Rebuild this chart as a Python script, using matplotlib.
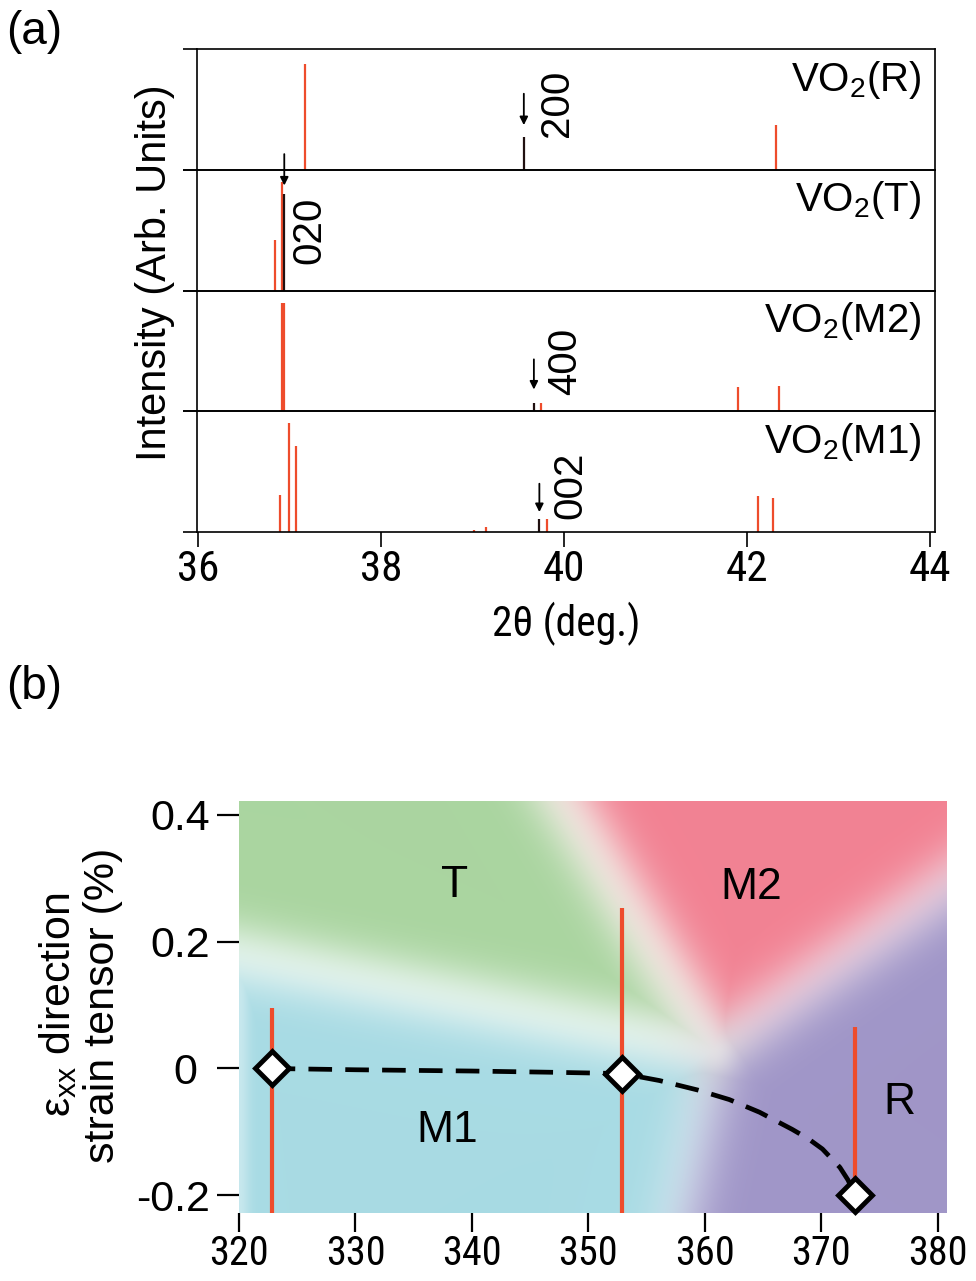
import numpy as np
import matplotlib.pyplot as plt

plt.rcParams['font.family'] = ['Liberation Sans', 'DejaVu Sans']
plt.rcParams['mathtext.fontset'] = 'custom'
plt.rcParams['mathtext.rm'] = 'Liberation Sans'
plt.rcParams['mathtext.it'] = 'Liberation Sans:italic'
NARROW = ['Roboto Condensed', 'Liberation Sans', 'DejaVu Sans']

RED = '#ee4c2c'
DARK = '#201010'

# ---- (a) reference stick patterns, 2theta (deg) and relative intensity ----
phases = ['R', 'T', 'M2', 'M1']
red_pos = {
    'R': [37.17, 42.32],
    'T': [36.84, 36.92],
    'M2': [36.915, 36.935, 39.75, 41.90, 42.35],
    'M1': [36.89, 36.99, 37.07, 39.02, 39.15, 39.81, 42.12, 42.28],
}
red_int = {
    'R': [0.88, 0.37],
    'T': [0.42, 0.90],
    'M2': [0.90, 0.90, 0.07, 0.20, 0.21],
    'M1': [0.31, 0.90, 0.71, 0.015, 0.04, 0.11, 0.30, 0.28],
}
# film peak (black) marked by the arrow, with its index
film_pos = {'R': 39.56, 'T': 36.94, 'M2': 39.67, 'M1': 39.73}
film_int = {'R': 0.27, 'T': 0.80, 'M2': 0.07, 'M1': 0.11}
hkl = {'R': '200', 'T': '020', 'M2': '400', 'M1': '002'}
hkl_xy = {'R': (39.92, 0.55), 'T': (37.21, 0.50), 'M2': (40.01, 0.41), 'M1': (40.07, 0.39)}
arrow_top = {'R': 0.63, 'T': 1.13, 'M2': 0.43, 'M1': 0.40}
arrow_tip = {'R': 0.37, 'T': 0.87, 'M2': 0.18, 'M1': 0.165}
x_ticks_a = [36, 38, 40, 42, 44]

# ---- (b) strain vs temperature ----
temp = [322.8, 352.9, 372.9]
strain = [0.0, -0.008, -0.2]
err_lo = [0.30, 0.30, 0.03]
err_hi = [0.095, 0.261, 0.265]
guide_T = [322.8, 330, 340, 347, 352.9, 356.1, 359.4, 362.1, 364.7, 367.5, 368.9,
           370.1, 371.6, 372.3, 372.9]
guide_s = [0.0, -0.002, -0.004, -0.006, -0.008, -0.019, -0.034, -0.049, -0.069, -0.096, -0.111,
           -0.127, -0.156, -0.176, -0.2]
x_ticks_b = [320, 330, 340, 350, 360, 370, 380]
y_ticks_b = [-0.2, 0.0, 0.2, 0.4]
y_labels_b = ['-0.2', '0 ', '0.2', '0.4']

# phase diagram: triple point and far ends of the four boundaries
triple = (360.8, 0.03)
bound_end = {
    'M1|T': (320.0, 0.18),
    'T|M2': (348.0, 0.422),
    'M2|R': (380.8, 0.29),
    'M1|R': (357.8, -0.228),
}
bound_white = {'M1|T': 0.6, 'T|M2': 0.6, 'M2|R': 0.45, 'M1|R': 0.35}
phase_col = {
    'T': (170, 213, 160),
    'M2': (242, 130, 147),
    'R': (160, 150, 200),
    'M1': (168, 219, 228),
}
# sector of each phase, counter-clockwise from first boundary to second
sectors = {'R': ('M1|R', 'M2|R'), 'M2': ('M2|R', 'T|M2'),
           'T': ('T|M2', 'M1|T'), 'M1': ('M1|T', 'M1|R')}
phase_txt = {'T': (338.5, 0.289), 'M2': (364.0, 0.286), 'M1': (337.9, -0.098), 'R': (376.7, -0.054)}

xlim_b = (320, 380.8)
ylim_b = (-0.228, 0.422)

fig = plt.figure(figsize=(9.76, 12.81), dpi=100)

# ---------------- panel (a) ----------------
a_left, a_width = 0.2018, 0.756
a_bottom, a_top = 0.5847, 0.9617
h = (a_top - a_bottom) / 4
for i, ph in enumerate(phases):
    ax = fig.add_axes([a_left, a_top - (i + 1) * h, a_width, h])
    ax.set_facecolor('none')
    ax.set_xlim(35.985, 44.055)
    ax.set_ylim(0, 1)
    ax.vlines(red_pos[ph], 0, red_int[ph], color=RED, lw=1.6)
    ax.vlines(film_pos[ph], 0, film_int[ph], color=DARK, lw=1.6)
    ax.annotate('', xy=(film_pos[ph], arrow_tip[ph]), xytext=(film_pos[ph], arrow_top[ph]),
                arrowprops=dict(arrowstyle='-|>', color='k', lw=1.3, mutation_scale=12,
                                shrinkA=0, shrinkB=0),
                annotation_clip=False)
    hx, hy = hkl_xy[ph]
    ax.text(hx, hy, hkl[ph], rotation=90, ha='center', va='center', fontsize=29)
    ax.text(0.982, 0.92, 'VO$_{\\mathregular{2}}$(' + ph + ')', transform=ax.transAxes,
            ha='right', va='top', fontsize=29)
    ax.set_yticks([0, 1])
    ax.set_yticklabels([])
    ax.tick_params(axis='y', direction='out', length=10, width=1.2)
    for sp in ax.spines.values():
        sp.set_linewidth(1.2)
    if i < 3:
        ax.set_xticks([])
    else:
        ax.set_xticks(x_ticks_a)
        ax.tick_params(axis='x', direction='out', length=11, width=1.2, labelsize=31, pad=1)
        for lab in ax.get_xticklabels():
            lab.set_family(NARROW)
        ax.set_xlabel('2θ (deg.)', fontsize=30, family=NARROW, labelpad=9)

fig.text(0.159, 0.787, 'Intensity (Arb. Units)', rotation=90, ha='center', va='center', fontsize=30)
fig.text(0.006, 0.992, '(a)', ha='left', va='top', fontsize=33)

# ---------------- panel (b) ----------------
axb = fig.add_axes([0.2449, 0.05308, 0.7254, 0.3216])

# soft phase map, distances measured in pixels on screen
px_per_T = 708 / (xlim_b[1] - xlim_b[0])
px_per_s = 412 / (ylim_b[1] - ylim_b[0])
nx, ny = 600, 350
tt = np.linspace(xlim_b[0], xlim_b[1], nx)
ss = np.linspace(ylim_b[0], ylim_b[1], ny)
TT, SS = np.meshgrid(tt, ss)
dx = (TT - triple[0]) * px_per_T
dy = (SS - triple[1]) * px_per_s
ang = np.degrees(np.arctan2(dy, dx)) % 360

ray_ang, ray_dist = {}, {}
for name, (bt, bs) in bound_end.items():
    vx = (bt - triple[0]) * px_per_T
    vy = (bs - triple[1]) * px_per_s
    n = np.hypot(vx, vy)
    ux, uy = vx / n, vy / n
    ray_ang[name] = np.degrees(np.arctan2(uy, ux)) % 360
    t = np.maximum(dx * ux + dy * uy, 0)
    ray_dist[name] = np.hypot(dx - t * ux, dy - t * uy)

tau = 20.0
wsum = np.zeros_like(TT)
rgb = np.zeros(TT.shape + (3,))
for ph, (ba, bb) in sectors.items():
    a1, a2 = ray_ang[ba], ray_ang[bb]
    inside = ((ang - a1) % 360) < ((a2 - a1) % 360)
    d = np.minimum(ray_dist[ba], ray_dist[bb])
    sd = np.where(inside, d, -d)
    w = np.exp(np.clip(sd / tau, -50, 50))
    wsum += w
    rgb += w[..., None] * (np.array(phase_col[ph]) / 255.0)
rgb /= wsum[..., None]

white = np.zeros_like(TT)
for name, dist in ray_dist.items():
    white = np.maximum(white, bound_white[name] * np.exp(-(dist / 34.0) ** 2))
# light fringe along the left edge
edge = (TT - xlim_b[0]) * px_per_T
white = np.maximum(white, 0.35 * np.exp(-(edge / 10.0) ** 2) * (SS < 0.15))
rgb = rgb * (1 - white[..., None]) + white[..., None]

axb.imshow(rgb, origin='lower', extent=(xlim_b[0], xlim_b[1], ylim_b[0], ylim_b[1]),
           aspect='auto', interpolation='bilinear', zorder=0)

axb.plot(guide_T, guide_s, color='k', lw=3.4, dashes=(5, 2.8), zorder=2)
axb.errorbar(temp, strain, yerr=[err_lo, err_hi], fmt='none', ecolor=RED, elinewidth=3,
             capsize=0, zorder=3)
axb.plot(temp, strain, linestyle='none', marker='D', ms=17, mfc='white', mec='k', mew=3.5,
         zorder=4, clip_on=False)

for ph, (px, py) in phase_txt.items():
    axb.text(px, py, ph, ha='center', va='center', fontsize=32)

axb.set_xlim(*xlim_b)
axb.set_ylim(*ylim_b)
for sp in axb.spines.values():
    sp.set_visible(False)
axb.set_xticks(x_ticks_b)
axb.set_yticks(y_ticks_b)
axb.set_yticklabels(y_labels_b)
axb.tick_params(axis='both', direction='out', length=14, width=1.6)
axb.tick_params(axis='x', labelsize=29, pad=1)
axb.tick_params(axis='y', length=16, labelsize=31, pad=5)
for lab in axb.get_xticklabels():
    lab.set_family(NARROW)

fig.text(0.082, 0.2155, 'ε$_{\\mathregular{xx}}$ direction\nstrain tensor (%)', rotation=90,
         ha='center', va='center', fontsize=31, linespacing=1.1)
fig.text(0.006, 0.481, '(b)', ha='left', va='top', fontsize=33)

fig.savefig('out.png', dpi=100)
